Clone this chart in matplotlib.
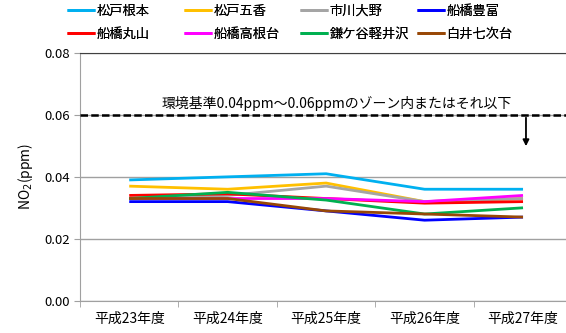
# -*- coding: utf-8 -*-
import matplotlib
matplotlib.use("Agg")
import matplotlib.pyplot as plt
from matplotlib.ticker import FixedLocator
import numpy as np

plt.rcParams['font.family'] = ['Noto Sans CJK JP', 'DejaVu Sans']

# ----------------------------------------------------------------------------------------------------------------------
anos = ["平成23年度", "平成24年度", "平成25年度", "平成26年度", "平成27年度"]

estacoes = ["松戸根本", "松戸五香", "市川大野", "船橋豊富",
            "船橋丸山", "船橋高根台", "鎌ケ谷軽井沢", "白井七次台"]

matsudo_nemoto = [0.039, 0.040, 0.041, 0.036, 0.036]
matsudo_goko = [0.037, 0.036, 0.038, 0.032, 0.033]
ichikawa_ono = [0.033, 0.034, 0.037, 0.032, 0.033]
funabashi_toyotomi = [0.032, 0.032, 0.029, 0.026, 0.027]
funabashi_maruyama = [0.034, 0.0345, 0.033, 0.0315, 0.032]
funabashi_takanedai = [0.033, 0.033, 0.033, 0.032, 0.034]
kamagaya_karuizawa = [0.033, 0.035, 0.0325, 0.028, 0.030]
shiroi_nanatsugidai = [0.033, 0.033, 0.029, 0.028, 0.027]

series = [matsudo_nemoto, matsudo_goko, ichikawa_ono, funabashi_toyotomi,
          funabashi_maruyama, funabashi_takanedai, kamagaya_karuizawa, shiroi_nanatsugidai]

cores = ["#00B0F0", "#FFC000", "#A5A5A5", "#0000FF",
         "#FF0000", "#FF00FF", "#00B050", "#984807"]

limite = 0.06
limite_seta = 0.049
texto_limite = "環境基準0.04ppm～0.06ppmのゾーン内またはそれ以下"

# ----------------------------------------------------------------------------------------------------------------------
fig = plt.figure(figsize=(5.66, 3.33), dpi=100)
ax = fig.add_axes([80 / 566, 1 - 300.7 / 333, (572.25 - 80) / 566, (300.7 - 53) / 333])

x = np.arange(len(anos))
linhas = []
for nome, valores, cor in zip(estacoes, series, cores):
    l, = ax.plot(x, valores, color=cor, lw=2.0, label=nome, solid_capstyle='butt')
    linhas.append(l)

ax.set_xlim(-0.5, len(anos) - 0.5)
ax.set_ylim(0, 0.08)
ax.set_yticks(np.arange(0, 0.081, 0.02))
ax.set_yticklabels(["%.2f" % v for v in np.arange(0, 0.081, 0.02)], fontsize=9.5)

ax.set_xticks(x)
ax.set_xticklabels(anos, fontsize=10)
ax.xaxis.set_minor_locator(FixedLocator(np.arange(-0.5, len(anos), 1.0)))
ax.tick_params(axis='x', which='major', length=0, pad=8)
ax.tick_params(axis='x', which='minor', length=4, color='#A0A0A0', direction='out')
ax.tick_params(axis='y', length=4, color='#A0A0A0', direction='out', pad=3)

ax.grid(True, axis='y', color='#A0A0A0', lw=1.0)
ax.set_axisbelow(True)
for s in ['left', 'bottom']:
    ax.spines[s].set_color('#A0A0A0')
ax.spines['top'].set_color('#404040')
ax.spines['right'].set_visible(False)

ax.set_ylabel("NO$_2$(ppm)", fontsize=10, labelpad=7)

# limite do padrao ambiental
ax.axhline(limite, color='black', lw=1.8, ls=(0, (3, 1.3)), zorder=5)
ax.text(0.33, limite + 0.0013, texto_limite, fontsize=10, ha='left', va='bottom')
ax.annotate("", xy=(4.03, limite_seta), xytext=(4.03, limite),
            arrowprops=dict(arrowstyle='-|>', color='black', lw=1.3, mutation_scale=9))

# legenda em 4 colunas de largura fixa, preenchida por linha
x_colunas = [66, 183, 299, 416]
for i, xc in enumerate(x_colunas):
    leg = fig.legend(handles=[linhas[i], linhas[i + 4]], loc='upper left',
                     bbox_to_anchor=(xc / 566, 0.99), frameon=False, fontsize=9.5,
                     handlelength=2.1, handletextpad=0.1, labelspacing=0.75,
                     borderaxespad=0, borderpad=0.1)
    fig.add_artist(leg)

fig.savefig("out.png", dpi=100)
